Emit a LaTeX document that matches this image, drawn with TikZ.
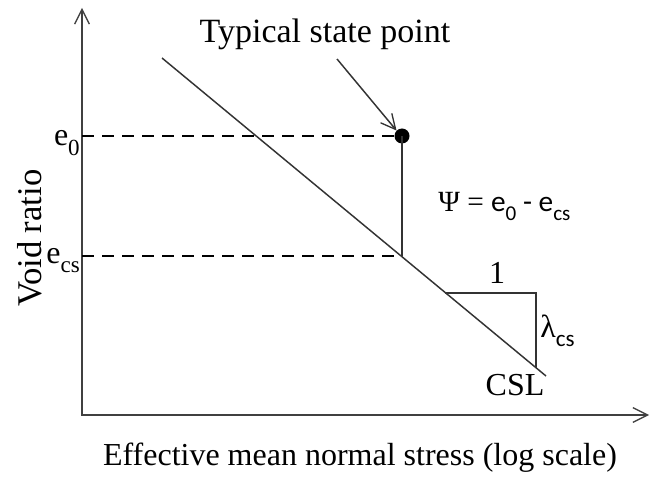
\documentclass[tikz,border=0pt]{standalone}
\usepackage{fontspec}
\setmainfont{Liberation Serif}
\newfontfamily\sansf{Carlito}
\usetikzlibrary{arrows.meta}
\tikzset{barb/.tip={Straight Barb[length=11pt,width=11pt,line width=1pt]}}
\newcommand\lowsub[1]{\raisebox{-0.3em}{\scalebox{0.72}{#1}}}
\begin{document}
\begin{tikzpicture}[x=0.75pt,y=-0.75pt,
  axis/.style={draw=black!75,line width=1.5pt},
  curve/.style={draw=black!80,line width=1.1pt},
  guide/.style={draw=black,line width=1.1pt,dash pattern=on 9pt off 6pt},
  lbl/.style={inner sep=0pt,font=\fontsize{24}{28}\selectfont},
  slbl/.style={inner sep=0pt,font=\fontsize{22}{26}\selectfont}]
\useasboundingbox (0,0) rectangle (663,477);
% axes
\coordinate (ytop) at (82,8);
\coordinate (O) at (82,415);
\coordinate (xend) at (649,415);
\draw[axis,barb-barb] (ytop) -- (O) -- (xend);
% CSL
\coordinate (cslA) at (162,58);
\coordinate (cslB) at (546,376);
\draw[curve] (cslA) -- (cslB);
% state point
\node[circle,fill=black,inner sep=0pt,minimum size=15pt*0.75] (sp) at (402,136) {};
\coordinate (cs) at (402,256);
\coordinate (e0y) at (82,136);
\coordinate (ecsy) at (82,256);
\draw[guide] (e0y) -- (sp.west);
\draw[guide] (ecsy) -- (cs);
\draw[curve] (sp.center) -- (cs);
% slope triangle
\coordinate (tA) at (445,293);
\coordinate (tB) at (536,293);
\coordinate (tC) at (536,368);
\draw[curve] (tA) -- (tB) -- (tC);
% labels
\node[lbl,anchor=base,font=\fontsize{25.5}{30}\selectfont] (title) at (325,43) {Typical state point};
\coordinate (arrS) at (337,59);
\draw[curve,-barb] (arrS) -- (sp.north west);
\node[lbl,anchor=base] (xlab) at (360,465) {Effective mean normal stress (log scale)};
\node[lbl,anchor=base,rotate=90,font=\fontsize{26}{30}\selectfont] (ylab) at (41,238) {Void ratio};
\node[lbl,anchor=base east] (e0) at (80,146) {e\lowsub{0}};
\node[lbl,anchor=base east] (ecs) at (80,263) {e\lowsub{cs}};
\node[slbl,anchor=base west] (psi) at (438,212) {Ψ = {\sansf e\lowsub{0} - e\lowsub{cs}}};
\node[lbl,anchor=base] (one) at (497,283) {1};
\node[lbl,anchor=base west] (lam) at (540,337) {λ{\sansf\lowsub{cs}}};
\node[lbl,anchor=base] (csl) at (515,395) {CSL};
\end{tikzpicture}
\end{document}
